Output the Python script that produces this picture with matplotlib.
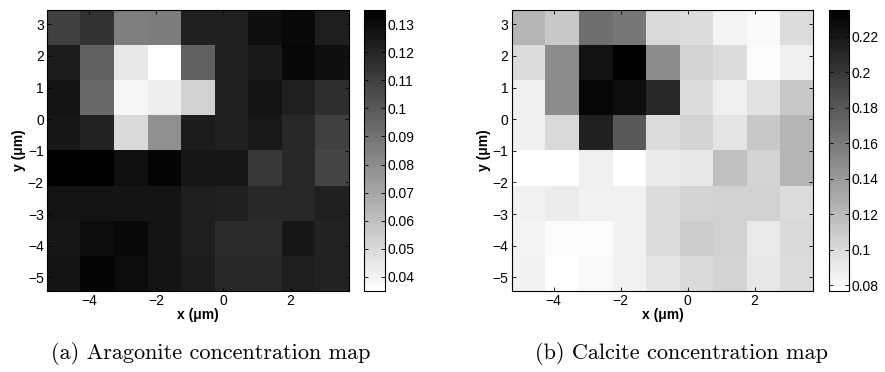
import numpy as np
import matplotlib
matplotlib.use("Agg")
import matplotlib.pyplot as plt
from matplotlib.ticker import FormatStrFormatter

# Concentration maps, rows from top (y ~ 3) to bottom (y ~ -5), columns from x ~ -4.75 to 3.25
aragonite = [
    [0.110, 0.115, 0.085, 0.086, 0.122, 0.122, 0.129, 0.131, 0.123],
    [0.124, 0.097, 0.044, 0.035, 0.097, 0.122, 0.125, 0.132, 0.129],
    [0.127, 0.094, 0.039, 0.042, 0.053, 0.122, 0.127, 0.122, 0.117],
    [0.126, 0.121, 0.050, 0.079, 0.124, 0.122, 0.125, 0.119, 0.110],
    [0.135, 0.135, 0.128, 0.133, 0.126, 0.126, 0.113, 0.119, 0.108],
    [0.127, 0.127, 0.127, 0.127, 0.123, 0.122, 0.119, 0.119, 0.122],
    [0.126, 0.130, 0.131, 0.127, 0.123, 0.118, 0.118, 0.126, 0.121],
    [0.127, 0.133, 0.130, 0.127, 0.124, 0.119, 0.119, 0.123, 0.121],
]
calcite = [
    [0.123, 0.111, 0.166, 0.161, 0.101, 0.099, 0.084, 0.081, 0.099],
    [0.099, 0.148, 0.223, 0.235, 0.148, 0.104, 0.099, 0.080, 0.087],
    [0.087, 0.148, 0.231, 0.226, 0.209, 0.099, 0.087, 0.096, 0.111],
    [0.087, 0.101, 0.215, 0.179, 0.099, 0.104, 0.094, 0.111, 0.123],
    [0.077, 0.077, 0.087, 0.077, 0.090, 0.092, 0.116, 0.104, 0.123],
    [0.086, 0.089, 0.086, 0.086, 0.099, 0.104, 0.106, 0.106, 0.099],
    [0.085, 0.080, 0.080, 0.086, 0.099, 0.109, 0.106, 0.091, 0.101],
    [0.086, 0.077, 0.081, 0.086, 0.094, 0.101, 0.104, 0.092, 0.099],
]
x_ticks = [-4, -2, 0, 2]
y_ticks = [3, 2, 1, 0, -1, -2, -3, -4, -5]
arag_cticks = [0.04, 0.05, 0.06, 0.07, 0.08, 0.09, 0.1, 0.11, 0.12, 0.13]
calc_cticks = [0.08, 0.1, 0.12, 0.14, 0.16, 0.18, 0.2, 0.22]
captions = ["(a) Aragonite concentration map", "(b) Calcite concentration map"]

extent = [-5.25, 3.75, -5.42, 3.44]
plt.rcParams['font.family'] = ['Liberation Sans', 'DejaVu Sans']
plt.rcParams['font.size'] = 10

fig = plt.figure(figsize=(8.85, 3.72), dpi=100)

# (data, colour limits, colourbar ticks, axes box, colourbar box, caption x)
panels = [
    (aragonite, (0.035, 0.135), arag_cticks, [0.0534, 0.2185, 0.3412, 0.7538], [0.4116, 0.2185, 0.0234, 0.7538], 0.238),
    (calcite, (0.077, 0.235), calc_cticks, [0.5782, 0.2185, 0.3408, 0.7538], [0.9367, 0.2185, 0.0229, 0.7538], 0.770),
]

for i, (data, clim, cticks, axpos, cbpos, capx) in enumerate(panels):
    ax = fig.add_axes(axpos)
    im = ax.imshow(np.array(data), cmap="gray_r", vmin=clim[0], vmax=clim[1],
                   extent=extent, origin="upper", aspect="auto", interpolation="nearest")
    ax.set_xticks(x_ticks)
    ax.set_yticks(y_ticks)
    ax.set_xticklabels([str(t).replace("-", "\u2212") for t in x_ticks])
    ax.set_yticklabels([str(t).replace("-", "\u2212") for t in y_ticks])
    ax.tick_params(direction="in", top=True, right=True, length=3, width=0.6, pad=2.5)
    ax.set_xlabel("x (\u03bcm)", fontweight="bold", labelpad=0)
    ax.set_ylabel("y (\u03bcm)", fontweight="bold", labelpad=1)
    for s in ax.spines.values():
        s.set_linewidth(0.8)

    cax = fig.add_axes(cbpos)
    cb = fig.colorbar(im, cax=cax, ticks=cticks)
    cb.ax.yaxis.set_major_formatter(FormatStrFormatter("%g"))
    cb.ax.tick_params(direction="in", left=True, right=True, length=3, width=0.6, pad=1.5)
    cb.outline.set_linewidth(0.8)

    fig.text(capx, 0.05, captions[i], ha="center", va="center",
             fontsize=16, family="cmr10")

plt.savefig("out.png", dpi=100)
